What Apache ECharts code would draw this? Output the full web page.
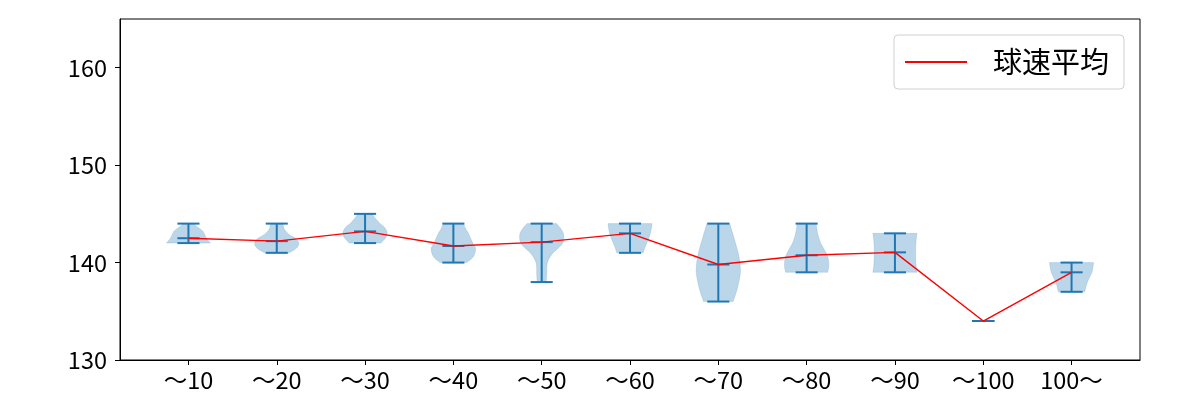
<!DOCTYPE html>
<html>
<head>
<meta charset="utf-8">
<script src="https://cdn.jsdelivr.net/npm/echarts@6/dist/echarts.min.js"></script>
<style>
html,body{margin:0;padding:0;background:#fff;}
#chart{width:1200px;height:400px;}
</style>
</head>
<body>
<div id="chart"></div>
<script>
// ---- data ----
const categories = ['〜10','〜20','〜30','〜40','〜50','〜60','〜70','〜80','〜90','〜100','100〜'];
const mins  = [142, 141, 142, 140, 138, 141, 136, 139, 139, 134, 137];
const maxs  = [144, 144, 145, 144, 144, 144, 144, 144, 143, 134, 140];
const means = [142.5, 142.2, 143.2, 141.7, 142.1, 143.0, 139.8, 140.75, 141.05, 134, 139.0];
const yTicks = [130, 140, 150, 160];
// violin outline: [speed, relative half width]
const violinShapes = [
  [[142,1.0],[142.25,0.9],[142.5,0.82],[142.75,0.76],[143,0.71],[143.25,0.64],[143.5,0.5],[143.75,0.35],[144,0.22]],
  [[141,0.55],[141.25,0.75],[141.5,0.9],[141.75,0.98],[142,1.0],[142.25,0.95],[142.5,0.85],[142.75,0.65],[143,0.5],[143.25,0.4],[143.5,0.33],[143.75,0.3],[144,0.27]],
  [[142,0.72],[142.25,0.82],[142.5,0.92],[142.75,0.98],[143,1.0],[143.25,0.98],[143.5,0.92],[143.75,0.82],[144,0.68],[144.25,0.58],[144.5,0.48],[144.75,0.4],[145,0.32]],
  [[140,0.6],[140.5,0.87],[141,0.98],[141.5,1.0],[142,0.88],[142.5,0.78],[143,0.68],[143.5,0.55],[144,0.46]],
  [[138,0.2],[138.5,0.22],[139,0.23],[139.5,0.23],[140,0.26],[140.5,0.36],[141,0.52],[141.5,0.76],[142,0.95],[142.5,1.0],[143,0.98],[143.5,0.86],[144,0.67]],
  [[141,0.6],[141.5,0.67],[142,0.76],[142.5,0.85],[143,0.92],[143.5,0.97],[144,1.0]],
  [[136,0.67],[137,0.82],[138,0.93],[139,1.0],[140,0.98],[141,0.9],[142,0.78],[143,0.65],[144,0.52]],
  [[139,0.95],[139.5,1.0],[140,1.0],[140.5,0.97],[141,0.88],[141.5,0.76],[142,0.64],[142.5,0.56],[143,0.5],[143.5,0.46],[144,0.43]],
  [[139,1.0],[139.5,0.97],[140,0.95],[140.5,0.94],[141,0.94],[141.5,0.94],[142,0.95],[142.5,0.97],[143,1.0]],
  [],
  [[137,0.6],[137.5,0.65],[138,0.72],[138.5,0.82],[139,0.92],[139.5,0.97],[140,1.0]]
];

const BLUE = '#1f77b4';
const FONT = '"Noto Sans CJK JP", "Noto Sans", sans-serif';
const HALF = 0.25;   // violin max half width (data units)
const CAP = 0.125;   // cap half width

function catmull(pts, steps) {
  if (pts.length < 3) return pts.slice();
  const out = [];
  for (let i = 0; i < pts.length - 1; i++) {
    const p0 = pts[Math.max(0, i - 1)], p1 = pts[i], p2 = pts[i + 1], p3 = pts[Math.min(pts.length - 1, i + 2)];
    for (let s = 0; s < steps; s++) {
      const t = s / steps, t2 = t * t, t3 = t2 * t;
      const f = (a, b, c, d) => 0.5 * ((2 * b) + (-a + c) * t + (2 * a - 5 * b + 4 * c - d) * t2 + (-a + 3 * b - 3 * c + d) * t3);
      out.push([f(p0[0], p1[0], p2[0], p3[0]), f(p0[1], p1[1], p2[1], p3[1])]);
    }
  }
  out.push(pts[pts.length - 1]);
  return out;
}

function renderViolin(params, api) {
  const i = params.dataIndex;
  const x = api.value(0), lo = api.value(1), hi = api.value(2), mu = api.value(3);
  const children = [];
  const shape = violinShapes[i];
  if (shape && shape.length > 1) {
    const right = shape.map(p => api.coord([x + p[1] * HALF, p[0]]));
    const left = shape.map(p => api.coord([x - p[1] * HALF, p[0]]));
    const r = catmull(right, 8);
    const l = catmull(left, 8).reverse();
    children.push({
      type: 'polygon',
      shape: { points: r.concat(l) },
      style: { fill: 'rgba(31,119,180,0.3)', stroke: 'rgba(31,119,180,0.15)', lineWidth: 1 }
    });
  }
  const seg = (x1, y1, x2, y2) => {
    const a = api.coord([x1, y1]), b = api.coord([x2, y2]);
    children.push({ type: 'line', shape: { x1: a[0], y1: a[1], x2: b[0], y2: b[1] }, style: { stroke: BLUE, lineWidth: 2 } });
  };
  seg(x, lo, x, hi);
  seg(x - CAP, lo, x + CAP, lo);
  seg(x - CAP, hi, x + CAP, hi);
  seg(x - CAP, mu, x + CAP, mu);
  return { type: 'group', children };
}

const positions = categories.map((c, i) => i + 1);
const chart = echarts.init(document.getElementById('chart'), null, { renderer: 'canvas' });
chart.setOption({
  animation: false,
  backgroundColor: '#fff',
  grid: { left: 120, right: 60, top: 19, bottom: 40, show: true, borderColor: '#000', borderWidth: 1, backgroundColor: 'transparent' },
  legend: {
    show: true,
    left: 894, top: 35,
    padding: [12, 15, 12, 11],
    borderColor: '#d0d0d0', borderWidth: 1, borderRadius: 4,
    backgroundColor: 'rgba(255,255,255,0.8)',
    itemWidth: 62, itemHeight: 2, icon: 'rect',
    data: [{ name: '球速平均', itemStyle: { color: 'red' } }],
    textStyle: { fontFamily: FONT, fontSize: 29, color: '#000', padding: [0, 0, 0, 21], lineHeight: 30 }
  },
  xAxis: {
    type: 'value', min: 0.225, max: 11.775,
    splitLine: { show: false },
    axisLine: { lineStyle: { color: '#000', width: 1 } },
    axisTick: { show: true, length: 5, customValues: positions, lineStyle: { color: '#000', width: 1 } },
    axisLabel: { customValues: positions, formatter: v => categories[Math.round(v) - 1] || '', fontFamily: FONT, fontSize: 23.5, color: '#000', margin: 8 }
  },
  yAxis: {
    type: 'value', min: 130, max: 165,
    splitLine: { show: false },
    axisLine: { show: true, lineStyle: { color: '#000', width: 1 } },
    axisTick: { show: true, length: 5, customValues: yTicks, lineStyle: { color: '#000', width: 1 } },
    axisLabel: { customValues: yTicks, fontFamily: FONT, fontSize: 23.5, color: '#000', margin: 13 }
  },
  series: [
    {
      type: 'custom',
      name: 'violins',
      renderItem: renderViolin,
      encode: { x: 0, y: [1, 2, 3] },
      data: categories.map((c, i) => [i + 1, mins[i], maxs[i], means[i]]),
      z: 2
    },
    {
      type: 'line',
      name: '球速平均',
      data: means.map((m, i) => [i + 1, m]),
      symbol: 'none',
      lineStyle: { color: 'red', width: 1.4 },
      itemStyle: { color: 'red' },
      z: 5
    }
  ]
});
</script>
</body>
</html>
